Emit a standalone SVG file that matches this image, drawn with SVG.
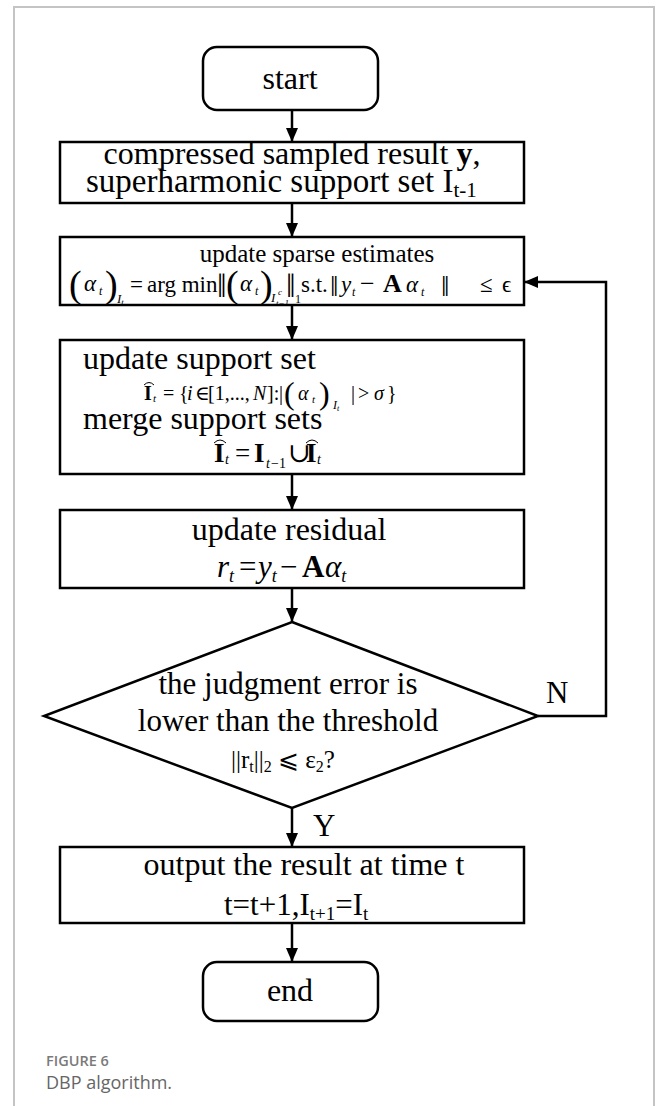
<svg xmlns="http://www.w3.org/2000/svg" width="656" height="1106" viewBox="0 0 656 1106">
  <style>
    .frame { fill: none; stroke: #c4c4c4; stroke-width: 2; }
    .node { fill: #fff; stroke: #000; stroke-width: 2.5; }
    .edge { fill: none; stroke: #000; stroke-width: 2.5; }
    .hat { fill: none; stroke: #000; stroke-width: 1; }
    .t { font-family: "Liberation Serif", "Times New Roman", serif; fill: #000; }
    .m { font-family: "Liberation Serif", "Times New Roman", "DejaVu Serif", serif; fill: #000; }
    .lbl { font-size: 31px; }
    .big { font-size: 32px; }
    .mid { text-anchor: middle; }
    .it { font-style: italic; }
    .b { font-weight: bold; }
    .cap1 { font-family: "Open Sans", "Noto Sans", sans-serif; font-size: 14.5px; font-weight: 600; fill: #7a7a7a; }
    .cap2 { font-family: "Open Sans", "Noto Sans", sans-serif; font-size: 18px; fill: #666; }
  </style>
  <defs>
    <marker id="ah" viewBox="0 0 14 12" refX="14" refY="6" markerWidth="14" markerHeight="12" markerUnits="userSpaceOnUse" orient="auto">
      <path d="M0,0 L14,6 L0,12 Z" fill="#000"/>
    </marker>
  </defs>

  <!-- page frame -->
  <path class="frame" d="M14,1106 V7 H654 V1106"/>

  <!-- connectors -->
  <g id="connectors">
    <path class="edge" d="M292,110 V142" marker-end="url(#ah)"/>
    <path class="edge" d="M292,203 V237" marker-end="url(#ah)"/>
    <path class="edge" d="M292,305 V340" marker-end="url(#ah)"/>
    <path class="edge" d="M292,474 V510" marker-end="url(#ah)"/>
    <path class="edge" d="M292,588 V622" marker-end="url(#ah)"/>
    <path class="edge" d="M292,808 V847" marker-end="url(#ah)"/>
    <path class="edge" d="M292,923 V962" marker-end="url(#ah)"/>
    <path class="edge" d="M538,716 H606 V282 H524" marker-end="url(#ah)"/>
    <text class="t lbl" x="546" y="703">N</text>
    <text class="t lbl" x="313" y="836">Y</text>
  </g>

  <!-- start -->
  <g id="start">
    <rect class="node" x="203" y="47" width="175" height="63" rx="14"/>
    <text class="t big mid" x="290" y="89">start</text>
  </g>

  <!-- input -->
  <g id="input">
    <rect class="node" x="60" y="142" width="464" height="61"/>
    <text class="t big mid" x="292" y="164">compressed sampled result <tspan class="b">y</tspan>,</text>
    <text class="t" x="86" y="192" font-size="33">superharmonic support set I<tspan font-size="21" dy="5">t-1</tspan></text>
  </g>

  <!-- sparse estimate update -->
  <g id="sparse">
    <rect class="node" x="60" y="237" width="464" height="68"/>
    <text class="t mid" x="317" y="262" font-size="25">update sparse estimates</text>
    <g class="m" font-size="23">
      <text x="69" y="297" font-size="38">(</text>
      <text class="it" x="84" y="291">α</text>
      <text class="it" x="99" y="295" font-size="12">t</text>
      <text x="105" y="297" font-size="38">)</text>
      <text class="it" x="117" y="303" font-size="13">I<tspan font-size="9" dy="2">t</tspan></text>
      <text x="130" y="292">=</text>
      <text x="147" y="292">arg min</text>
      <text x="217" y="297" font-size="34">‖</text>
      <text x="226" y="297" font-size="38">(</text>
      <text class="it" x="240" y="291">α</text>
      <text class="it" x="255" y="295" font-size="12">t</text>
      <text x="260" y="297" font-size="38">)</text>
      <text class="it" x="271" y="302" font-size="13">I</text>
      <text class="it" x="278" y="295" font-size="9">c</text>
      <text class="it" x="276" y="306" font-size="9">t−1</text>
      <text x="286" y="297" font-size="34">‖</text>
      <text x="295" y="303" font-size="12">1</text>
      <text x="301" y="292">s.t.</text>
      <text x="330" y="296" font-size="30">‖</text>
      <text class="it" x="341" y="292">y</text>
      <text class="it" x="352" y="296" font-size="12">t</text>
      <text x="360" y="292" font-size="26">−</text>
      <text class="b" x="383" y="292" font-size="26">A</text>
      <text class="it" x="406" y="292">α</text>
      <text class="it" x="421" y="296" font-size="12">t</text>
      <text x="441" y="296" font-size="30">‖</text>
      <text x="480" y="292">≤</text>
      <text x="502" y="292">ϵ</text>
    </g>
  </g>

  <!-- support set update -->
  <g id="support">
    <rect class="node" x="60" y="340" width="464" height="134"/>
    <text class="t big" x="83" y="369">update support set</text>
    <g class="m" font-size="20">
      <text class="b" x="144" y="400">I</text>
      <text class="it" x="153" y="402" font-size="11">t</text>
      <path class="hat" d="M144,385 Q149,380 154,385"/>
      <text x="163" y="400">=</text>
      <text x="179" y="400">{</text>
      <text class="it" x="187" y="400">i</text>
      <text x="195" y="400">∈</text>
      <text x="208" y="400">[1,...,</text>
      <text class="it" x="253" y="400">N</text>
      <text x="267" y="400">]:</text>
      <text x="279" y="400">|</text>
      <text x="284" y="404" font-size="32">(</text>
      <text class="it" x="298" y="400">α</text>
      <text class="it" x="312" y="403" font-size="11">t</text>
      <text x="319" y="404" font-size="32">)</text>
      <text class="it" x="333" y="409" font-size="12">I<tspan font-size="8" dy="2">t</tspan></text>
      <text x="351" y="400">|</text>
      <text x="358" y="400">&gt;</text>
      <text class="it" x="374" y="400">σ</text>
      <text x="387" y="400">}</text>
    </g>
    <text class="t big" x="83" y="429">merge support sets</text>
    <g class="m" font-size="27">
      <text class="b" x="214" y="462">I</text>
      <text class="it" x="225" y="464" font-size="14">t</text>
      <path class="hat" d="M214,443 Q220,437 226,443"/>
      <text x="235" y="462">=</text>
      <text class="b" x="254" y="462">I</text>
      <text class="it" x="266" y="468" font-size="14">t</text>
      <text x="271" y="468" font-size="14">−1</text>
      <text x="288" y="462">∪</text>
      <text class="b" x="306" y="462">I</text>
      <text class="it" x="317" y="464" font-size="14">t</text>
      <path class="hat" d="M306,443 Q312,437 318,443"/>
    </g>
  </g>

  <!-- residual update -->
  <g id="residual">
    <rect class="node" x="60" y="510" width="464" height="78"/>
    <text class="t big mid" x="289" y="540">update residual</text>
    <g class="m" font-size="31">
      <text class="it" x="217" y="577">r<tspan font-size="18" dy="5">t</tspan></text>
      <text x="239" y="577">=</text>
      <text class="it" x="258" y="577">y<tspan font-size="18" dy="5">t</tspan></text>
      <text x="280" y="577">−</text>
      <text class="b" x="302" y="577">A</text>
      <text class="it" x="325" y="577">α<tspan font-size="18" dy="5">t</tspan></text>
    </g>
  </g>

  <!-- error check -->
  <g id="check">
    <path class="node" d="M292,622 L538,716 L292,808 L44,716 Z"/>
    <text class="t lbl mid" x="288" y="694">the judgment error is</text>
    <text class="t lbl mid" x="288" y="731">lower than the threshold</text>
    <text class="m" x="231" y="768" font-size="25">||r<tspan font-size="16" dy="4">t</tspan><tspan dy="-4">||</tspan><tspan font-size="16" dy="4">2</tspan><tspan dy="-4"> ⩽ ε</tspan><tspan font-size="16" dy="4">2</tspan><tspan dy="-4">?</tspan></text>
  </g>

  <!-- output -->
  <g id="output">
    <rect class="node" x="60" y="847" width="464" height="76"/>
    <text class="t big mid" x="304" y="875">output the result at time t</text>
    <text class="t lbl" x="224" y="915">t=t+1,I<tspan font-size="19" dy="5">t+1</tspan><tspan dy="-5">=I</tspan><tspan font-size="19" dy="5">t</tspan></text>
  </g>

  <!-- end -->
  <g id="end">
    <rect class="node" x="203" y="962" width="175" height="59" rx="14"/>
    <text class="t big mid" x="290" y="1001">end</text>
  </g>

  <!-- caption -->
  <text class="cap1" x="46" y="1066">FIGURE 6</text>
  <text class="cap2" x="46" y="1089">DBP algorithm.</text>
</svg>
